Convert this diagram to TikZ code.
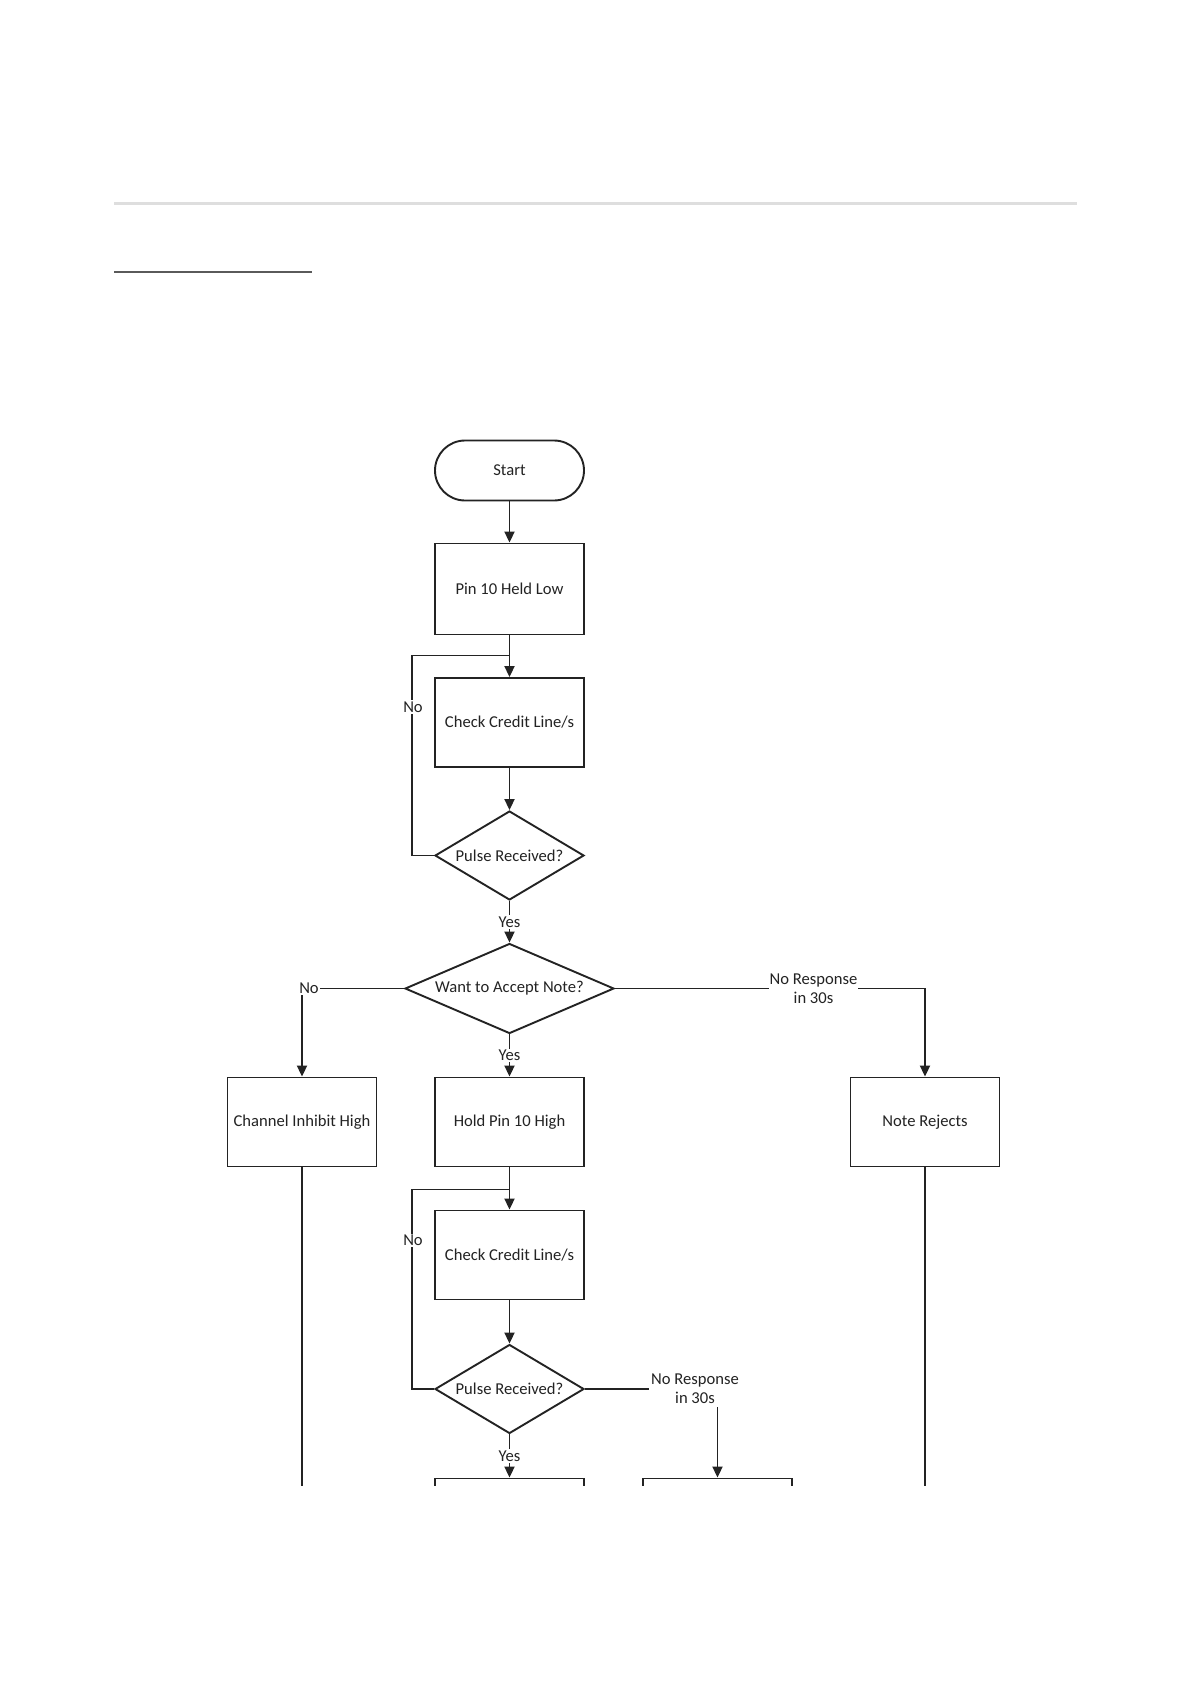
\documentclass[tikz,border=0pt]{standalone}
\usepackage{fontspec}
\setmainfont{Carlito}
\usetikzlibrary{shapes.geometric,arrows.meta}
\definecolor{ln}{RGB}{35,35,35}
\definecolor{txt}{RGB}{35,35,35}
\definecolor{rule}{RGB}{222,222,222}
\definecolor{dark}{RGB}{90,90,90}
\begin{document}
\begin{tikzpicture}[x=1pt,y=-1pt,
  every node/.style={font=\fontsize{16.6}{19}\selectfont, text=txt},
  box/.style={draw=ln, line width=1.9pt, rectangle, minimum width=149pt, minimum height=89pt, inner sep=0pt},
  term/.style={box, minimum height=60pt, rounded corners=30pt},
  dia/.style={draw=ln, line width=1.9pt, diamond, inner sep=0pt},
  conn/.style={draw=ln, line width=1.9pt},
  arr/.style={conn, -{Triangle[length=11pt,width=10pt]}},
  lbl/.style={fill=white, inner sep=1.5pt},
  nrlbl/.style={lbl, align=center, inner xsep=1pt, inner ysep=3.5pt},
]
\useasboundingbox (0,0) rectangle (1191,1684);
\fill[white] (0,0) rectangle (1191,1684);
\draw[line width=2.2pt, rule] (114,203.5) -- (1077,203.5);
\draw[line width=1.5pt, dark] (114,272) -- (312,272);
\begin{scope}
\clip (0,0) rectangle (1191,1485.5);
\node[term] (start) at (509.5,470.5) {Start};
\node[box, minimum height=91pt] (pin) at (509.5,589) {Pin 10 Held Low};
\node[box] (chk1) at (509.5,722.5) {Check Credit Line/s};
\node[dia, minimum width=149pt, minimum height=89pt, shape aspect=1.67] (pul1) at (509.5,855.5) {Pulse Received?};
\node[dia, minimum width=209pt, minimum height=90pt, shape aspect=2.3] (want) at (509.5,988.5) {Want to Accept Note?};
\node[box] (chan) at (302,1122) {Channel Inhibit High};
\node[box] (hold) at (509.5,1122) {Hold Pin 10 High};
\node[box] (rej) at (925,1122) {Note Rejects};
\node[box] (chk2) at (509.5,1255) {Check Credit Line/s};
\node[dia, minimum width=149pt, minimum height=89pt, shape aspect=1.67] (pul2) at (509.5,1389) {Pulse Received?};
\node[box] (b3) at (509.5,1523) {};
\node[box] (b4) at (717.5,1523) {};
\coordinate (j1) at (509.5,655.5);
\coordinate (j2) at (509.5,1189.5);
% connectors
\draw[arr] (start) -- (pin);
\draw[arr] (pin) -- (chk1);
\draw[conn] (pul1.west) -- ++(-22.5,0) |- (j1);
\draw[arr] (chk1) -- (pul1);
\draw[arr] (pul1) -- node[lbl] (yes1) {Yes} (want);
\draw[arr] (want.west) -| (chan.north);
\draw[arr] (want) -- node[lbl] (yes2) {Yes} (hold);
\draw[arr] (want.east) -| (rej.north);
\draw[conn] (chan.south) -- ++(0,400);
\draw[conn] (rej.south) -- ++(0,400);
\draw[arr] (hold) -- (chk2);
\draw[conn] (pul2.west) -- ++(-22.5,0) |- (j2);
\draw[arr] (chk2) -- (pul2);
\draw[arr] (pul2) -- node[lbl] (yes3) {Yes} (b3);
\draw[arr] (pul2.east) -| (b4.north);
% labels
\node[lbl] (no1) at (413,707) {No};
\node[lbl] (no2) at (309,988.5) {No};
\node[nrlbl] (nr1) at (813.5,989) {No Response\\in 30s};
\node[lbl] (no3) at (413,1240.5) {No};
\node[nrlbl, minimum width=92pt] (nr2) at (695,1389) {No Response\\in 30s};
\end{scope}
\end{tikzpicture}
\end{document}
